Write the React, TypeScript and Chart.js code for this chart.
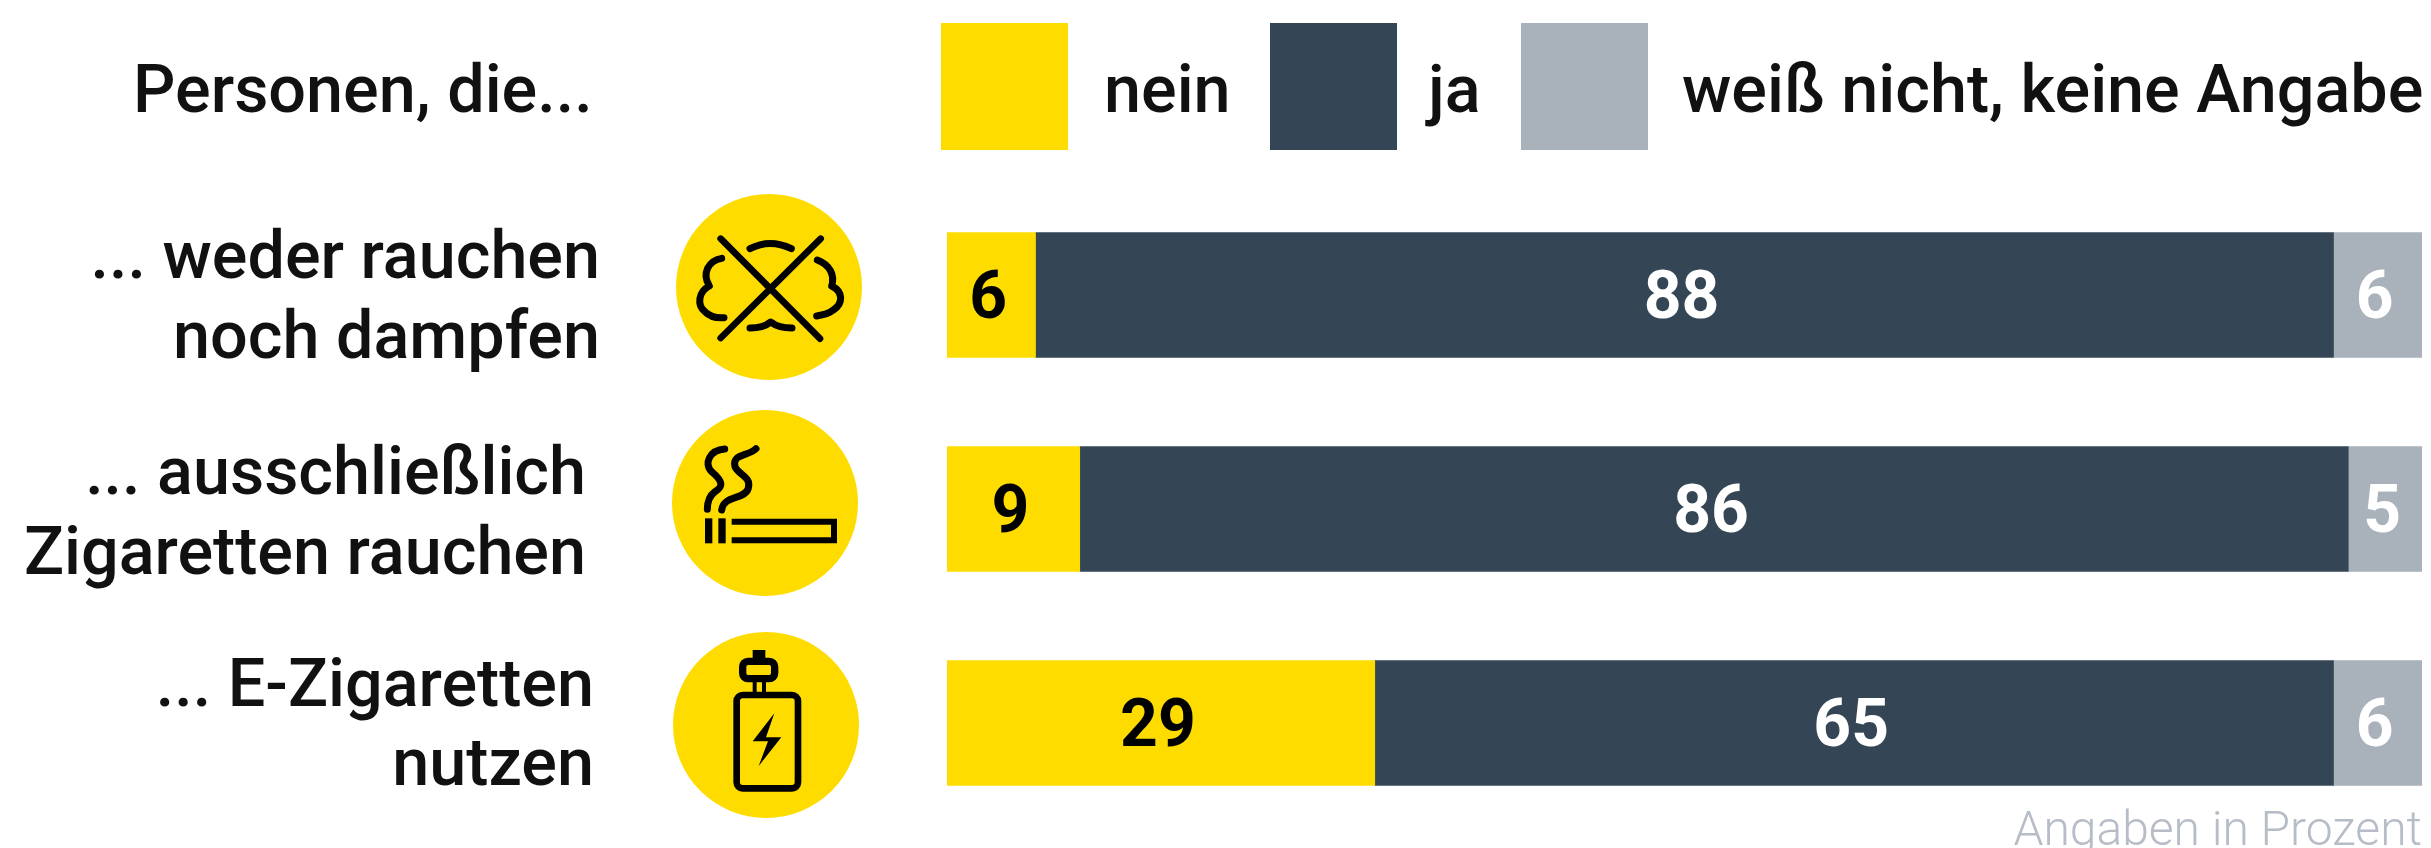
import React, { useEffect, useRef } from "react";
import { Chart, registerables } from "chart.js";

Chart.register(...registerables);

const categories = ["weder rauchen noch dampfen", "ausschließlich Zigaretten rauchen", "E-Zigaretten nutzen"];
const seriesNames = ["nein", "ja", "weiß nicht, keine Angabe"];
const neinValues = [6, 9, 29];
const jaValues = [88, 86, 65];
const unknownValues = [6, 5, 6];
const seriesColors = ["#FFDC00", "#344655", "#A9B1BA"];
const labelColors = ["#000000", "#FFFFFF", "#FFFFFF"];
const headerText = "Personen, die...";
const footerText = "Angaben in Prozent";
const rowLabels = [
  { lines: ["... weder rauchen", "noch dampfen"], right: 600, baselines: [278, 358] },
  { lines: ["... ausschließlich", "Zigaretten rauchen"], right: 586, baselines: [494, 574] },
  { lines: ["... E-Zigaretten", "nutzen"], right: 594, baselines: [706, 785] },
];
const legendSlots = [
  { box: 941, text: 1104 },
  { box: 1270, text: 1428 },
  { box: 1521, text: 1682 },
];

type Ctx = CanvasRenderingContext2D;

function stroked(ctx: Ctx, width: number, draw: () => void) {
  ctx.lineWidth = width;
  ctx.beginPath();
  draw();
  ctx.stroke();
}

function iconNoSmoke(ctx: Ctx) {
  ctx.save();
  ctx.fillStyle = "#FFDC00";
  ctx.beginPath();
  ctx.arc(769, 287, 93, 0, Math.PI * 2);
  ctx.fill();
  ctx.translate(620, 170);
  ctx.scale(1 / 3, 1 / 3);
  ctx.strokeStyle = "#000";
  ctx.lineCap = "round";
  ctx.lineJoin = "round";
  stroked(ctx, 20, () => {
    ctx.moveTo(302, 206);
    ctx.lineTo(600, 506);
    ctx.moveTo(602, 206);
    ctx.lineTo(302, 504);
  });
  stroked(ctx, 21, () => {
    ctx.moveTo(305, 265);
    ctx.bezierCurveTo(265, 272, 245, 310, 268, 348);
    ctx.bezierCurveTo(235, 365, 230, 405, 255, 425);
    ctx.bezierCurveTo(270, 440, 290, 445, 312, 443);
    ctx.moveTo(592, 270);
    ctx.bezierCurveTo(630, 285, 645, 315, 635, 348);
    ctx.bezierCurveTo(670, 365, 670, 400, 640, 420);
    ctx.bezierCurveTo(625, 432, 610, 435, 590, 438);
    ctx.moveTo(390, 236);
    ctx.quadraticCurveTo(450, 205, 514, 236);
    ctx.moveTo(390, 474);
    ctx.quadraticCurveTo(430, 474, 452, 456);
    ctx.quadraticCurveTo(475, 474, 516, 474);
  });
  ctx.restore();
}

function iconCigarette(ctx: Ctx) {
  ctx.save();
  ctx.fillStyle = "#FFDC00";
  ctx.beginPath();
  ctx.arc(765, 503, 93, 0, Math.PI * 2);
  ctx.fill();
  ctx.translate(620, 400);
  ctx.scale(1 / 3, 1 / 3);
  ctx.fillStyle = "#000";
  ctx.strokeStyle = "#000";
  ctx.fillRect(255, 355, 22, 75);
  ctx.fillRect(295, 355, 22, 75);
  ctx.lineJoin = "miter";
  stroked(ctx, 18, () => {
    ctx.moveTo(335, 365);
    ctx.lineTo(642, 365);
    ctx.lineTo(642, 421);
    ctx.lineTo(335, 421);
  });
  ctx.lineCap = "round";
  stroked(ctx, 21, () => {
    ctx.moveTo(314, 147);
    ctx.bezierCurveTo(270, 150, 250, 190, 275, 215);
    ctx.bezierCurveTo(310, 245, 310, 260, 285, 275);
    ctx.bezierCurveTo(265, 290, 262, 310, 262, 328);
    ctx.moveTo(408, 146);
    ctx.bezierCurveTo(385, 170, 335, 160, 345, 200);
    ctx.bezierCurveTo(355, 225, 395, 230, 385, 265);
    ctx.bezierCurveTo(375, 300, 310, 285, 305, 330);
  });
  ctx.restore();
}

function iconVape(ctx: Ctx) {
  ctx.save();
  ctx.fillStyle = "#FFDC00";
  ctx.beginPath();
  ctx.arc(766, 725, 93, 0, Math.PI * 2);
  ctx.fill();
  ctx.translate(620, 400);
  ctx.scale(1 / 3, 1 / 3);
  ctx.fillStyle = "#000";
  ctx.strokeStyle = "#000";
  stroked(ctx, 20, () => ctx.roundRect(350, 885, 184, 280, 18));
  stroked(ctx, 22, () => ctx.roundRect(368, 784, 96, 52, 16));
  ctx.fillRect(398, 750, 38, 30);
  ctx.fillRect(398, 846, 12, 34);
  ctx.fillRect(426, 846, 12, 34);
  ctx.beginPath();
  ctx.moveTo(463, 940);
  ctx.lineTo(398, 1024);
  ctx.lineTo(444, 1024);
  ctx.lineTo(416, 1098);
  ctx.lineTo(484, 1012);
  ctx.lineTo(438, 1012);
  ctx.closePath();
  ctx.fill();
  ctx.restore();
}

const decorPlugin = {
  id: "decor",
  afterDatasetsDraw(chart: Chart) {
    const ctx = chart.ctx;
    ctx.save();
    ctx.textBaseline = "alphabetic";

    // Header and legend
    ctx.textAlign = "left";
    ctx.fillStyle = "#111111";
    ctx.font = '500 66.5px Roboto';
    ctx.fillText(headerText, 133, 112);
    seriesNames.forEach((name, i) => {
      ctx.fillStyle = seriesColors[i];
      ctx.fillRect(legendSlots[i].box, 23, 127, 127);
      ctx.fillStyle = "#111111";
      ctx.fillText(name, legendSlots[i].text, 112);
    });

    // Row labels
    ctx.textAlign = "right";
    rowLabels.forEach((row) => {
      row.lines.forEach((line, j) => ctx.fillText(line, row.right, row.baselines[j]));
    });

    // Footer
    ctx.fillStyle = "#B6BDC6";
    ctx.font = '300 48px Roboto';
    ctx.fillText(footerText, 2422, 845);

    // Value labels, centred on the library's own bar elements
    ctx.textAlign = "center";
    ctx.textBaseline = "middle";
    ctx.font = '700 66px Roboto';
    chart.data.datasets.forEach((ds, i) => {
      chart.getDatasetMeta(i).data.forEach((bar: any, j: number) => {
        const p = bar.getProps(["x", "y", "base"], true);
        ctx.fillStyle = labelColors[i];
        ctx.fillText(String(ds.data[j]), (p.x + p.base) / 2 - 3, p.y + 6);
      });
    });
    ctx.restore();

    iconNoSmoke(ctx);
    iconCigarette(ctx);
    iconVape(ctx);
  },
};

export default function App() {
  const ref = useRef<HTMLCanvasElement>(null);
  useEffect(() => {
    const chart = new Chart(ref.current!, {
      type: "bar",
      data: {
        labels: categories,
        datasets: [neinValues, jaValues, unknownValues].map((data, i) => ({
          label: seriesNames[i],
          data,
          backgroundColor: seriesColors[i],
          borderWidth: 0,
          barThickness: 125,
        })),
      },
      options: {
        indexAxis: "y",
        animation: false,
        responsive: false,
        layout: { padding: { left: 947, right: 9, top: 188, bottom: 18 } },
        plugins: { legend: { display: false }, tooltip: { enabled: false }, title: { display: false } },
        scales: {
          x: { stacked: true, min: 0, max: 100, display: false },
          y: { stacked: true, display: false },
        },
      },
      plugins: [decorPlugin],
    });
    return () => chart.destroy();
  }, []);
  return (
    <div style={{ position: "fixed", left: 0, top: 0, width: 2431, height: 848, background: "#fff" }}>
      <canvas ref={ref} width={2431} height={848} style={{ display: "block" }} />
    </div>
  );
}
